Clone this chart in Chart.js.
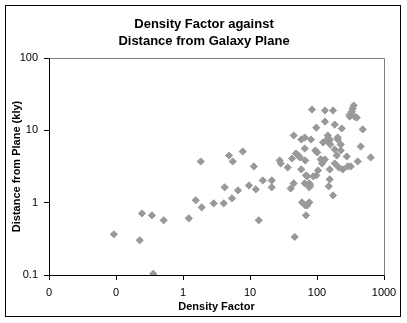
<!DOCTYPE html>
<html>
<head>
<meta charset="utf-8">
<script src="https://cdn.jsdelivr.net/npm/chart.js@4.4.1/dist/chart.umd.min.js"></script>
<style>
  html, body { margin: 0; padding: 0; background: #ffffff; }
  #wrap { width: 407px; height: 323px; position: relative; }
</style>
</head>
<body>
<div id="wrap"><canvas id="c" width="407" height="323"></canvas></div>
<script>
// Density factor (x) and distance from the galactic plane in kly (y), one entry per object
const densityFactor = [
  0.093, 0.226, 0.244, 0.344, 0.36, 0.515, 1.22, 1.55, 1.84, 1.9,
  2.87, 4.05, 4.19, 4.86, 5.52, 5.39, 6.62, 7.78, 9.66, 11.4,
  12.2, 13.5, 15.5, 21.1, 21.1, 27.7, 28.7, 36.5, 40.5, 44.9,
  42.4, 44.9, 46.5, 48.6, 52.6, 55.7, 58.3, 65.5, 65.5, 66.9,
  59.7, 58.3, 66.9, 68.5, 71.6, 76.7, 68.5, 71.6, 65.5, 76.7,
  79.4, 76.7, 81.4, 84.2, 88.1, 97.7, 97.7, 94.4, 101, 103.5,
  113.5, 118.8, 124, 131.6, 123, 131.6, 131.6, 136, 144.5, 149.6,
  154.8, 158, 154.8, 154.8, 149.6, 173.4, 173.4, 183.7, 183.7, 183.7,
  196.8, 203.7, 203.7, 210.9, 225.9, 225.9, 233.9, 242, 277.5, 287,
  318.5, 307.6, 329.6, 341, 353, 307.6, 365.6, 391.7, 404.8, 448.7,
  480.8, 632.6
];
const distanceKly = [
  0.366, 0.302, 0.711, 0.668, 0.104, 0.57, 0.607, 1.08, 3.71, 0.861,
  0.978, 0.978, 1.63, 4.49, 3.71, 1.15, 1.48, 5.1, 1.73, 3.17,
  1.53, 0.57, 2.03, 2.03, 1.63, 3.83, 3.48, 3.07, 1.57, 1.85,
  4.08, 8.48, 0.336, 4.79, 4.49, 4.22, 7.47, 7.96, 5.61, 3.83,
  1.01, 2.88, 0.918, 0.668, 0.918, 1.01, 2.38, 2.31, 1.85, 1.85,
  1.73, 1.63, 7.47, 19.4, 2.31, 2.38, 10.9, 5.26, 4.94, 2.79,
  3.96, 3.48, 3.83, 3.96, 6.79, 13.2, 18.8, 7.23, 8.48, 7.01,
  7.47, 6.37, 2.88, 2.1, 1.68, 18.8, 1.26, 12.0, 5.43, 3.48,
  4.49, 7.96, 7.47, 3.07, 6.37, 5.26, 10.6, 2.88, 4.35, 3.17,
  3.17, 16.5, 18.2, 20.0, 22.0, 15.5, 15.5, 15.0, 3.71, 5.98,
  10.3, 4.22
];

// Axis decades and the labels printed under them
const xTickValues = [0.01, 0.1, 1, 10, 100, 1000];
const xTickLabels = ['0', '0', '1', '10', '100', '1000'];
const yTickValues = [0.1, 1, 10, 100];
const yTickLabels = ['0.1', '1', '10', '100'];

const titleLines = ['Density Factor against', 'Distance from Galaxy Plane'];

const points = densityFactor.map((x, i) => ({ x: x, y: distanceKly[i] }));

// Outer frame, two-line heading and the grey top/right edges of the plot area
const framePlugin = {
  id: 'frame',
  beforeDraw(chart) {
    const ctx = chart.ctx;
    ctx.save();
    ctx.fillStyle = '#ffffff';
    ctx.fillRect(0, 0, chart.width, chart.height);
    ctx.restore();
  },
  beforeDatasetsDraw(chart) {
    const ctx = chart.ctx;
    const a = chart.chartArea;
    ctx.save();
    ctx.strokeStyle = '#808080';
    ctx.lineWidth = 1;
    ctx.beginPath();
    ctx.moveTo(Math.round(a.left) + 0.5, Math.round(a.top) + 0.5);
    ctx.lineTo(Math.round(a.right) + 0.5, Math.round(a.top) + 0.5);
    ctx.lineTo(Math.round(a.right) + 0.5, Math.round(a.bottom) + 0.5);
    ctx.stroke();
    ctx.restore();
  },
  afterDraw(chart) {
    const ctx = chart.ctx;
    ctx.save();
    ctx.strokeStyle = '#000000';
    ctx.lineWidth = 1;
    ctx.strokeRect(5.5, 5.5, 395, 311);
    ctx.fillStyle = '#000000';
    ctx.font = 'bold 13px "Liberation Sans", Arial, sans-serif';
    ctx.textAlign = 'center';
    ctx.textBaseline = 'alphabetic';
    ctx.fillText(titleLines[0], 204, 28);
    ctx.fillText(titleLines[1], 204, 45);
    ctx.restore();
  }
};

const tickFont = { family: '"Liberation Sans", Arial, sans-serif', size: 11 };
const axisTitleFont = { family: '"Liberation Sans", Arial, sans-serif', size: 11, weight: 'bold' };

new Chart(document.getElementById('c'), {
  type: 'scatter',
  data: {
    datasets: [{
      data: points,
      pointStyle: 'rectRot',
      pointRadius: 3.6,
      pointBorderWidth: 1,
      backgroundColor: '#999999',
      borderColor: '#999999'
    }]
  },
  options: {
    responsive: false,
    animation: false,
    layout: { padding: { top: 58, right: 23, bottom: 7, left: 6 } },
    plugins: {
      legend: { display: false },
      title: { display: false },
      tooltip: { enabled: false }
    },
    scales: {
      x: {
        type: 'logarithmic',
        min: 0.01,
        max: 1000,
        afterBuildTicks(scale) { scale.ticks = xTickValues.map(v => ({ value: v })); },
        afterFit(scale) { scale.height = 41; },
        ticks: {
          color: '#000000',
          font: tickFont,
          padding: 6,
          autoSkip: false,
          maxRotation: 0,
          callback: (v, i) => xTickLabels[i]
        },
        grid: { drawOnChartArea: false, drawTicks: true, tickLength: 5, color: '#000000' },
        border: { display: true, color: '#000000', width: 1 },
        title: { display: true, text: 'Density Factor', color: '#000000', font: axisTitleFont, padding: { top: 0, bottom: 2 } }
      },
      y: {
        type: 'logarithmic',
        min: 0.1,
        max: 100,
        afterBuildTicks(scale) { scale.ticks = yTickValues.map(v => ({ value: v })); },
        afterFit(scale) { scale.width = 43; },
        ticks: {
          color: '#000000',
          font: tickFont,
          padding: 6,
          autoSkip: false,
          callback: (v, i) => yTickLabels[i]
        },
        grid: { drawOnChartArea: false, drawTicks: true, tickLength: 5, color: '#000000' },
        border: { display: true, color: '#000000', width: 1 },
        title: { display: true, text: 'Distance from Plane (kly)', color: '#000000', font: axisTitleFont, padding: { top: 4, bottom: 0 } }
      }
    }
  },
  plugins: [framePlugin]
});
</script>
</body>
</html>
